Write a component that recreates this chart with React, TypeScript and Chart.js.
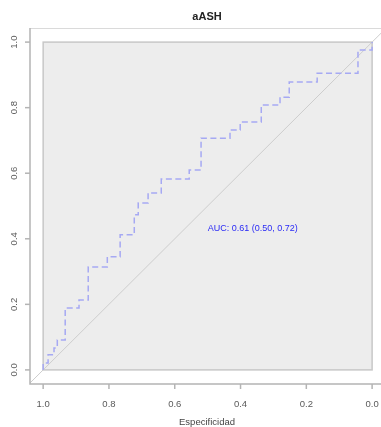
import React, { useEffect, useRef } from "react";
import { Chart, registerables } from "chart.js";

Chart.register(...registerables);

const TITLE = "aASH";
const X_LABEL = "Especificidad";
const AUC_TEXT = "AUC: 0.61 (0.50, 0.72)";
const TICKS = [1.0, 0.8, 0.6, 0.4, 0.2, 0.0];
const TICK_LABELS = ["1.0", "0.8", "0.6", "0.4", "0.2", "0.0"];

// ROC step-curve vertices (specificity, sensitivity)
const rocSpecificity = [
  1.0, 1.0, 0.985, 0.985, 0.967, 0.967, 0.957, 0.957, 0.933, 0.933,
  0.891, 0.891, 0.863, 0.863, 0.805, 0.805, 0.766, 0.766, 0.723, 0.723,
  0.711, 0.711, 0.681, 0.681, 0.641, 0.641, 0.556, 0.556, 0.52, 0.52,
  0.432, 0.432, 0.401, 0.401, 0.337, 0.337, 0.28, 0.28, 0.252, 0.252,
  0.167, 0.167, 0.043, 0.043, 0.0, 0.0,
];
const rocSensitivity = [
  0.0, 0.021, 0.021, 0.046, 0.046, 0.067, 0.067, 0.091, 0.091, 0.189,
  0.189, 0.213, 0.213, 0.314, 0.314, 0.345, 0.345, 0.412, 0.412, 0.473,
  0.473, 0.509, 0.509, 0.54, 0.54, 0.582, 0.582, 0.61, 0.61, 0.707,
  0.707, 0.732, 0.732, 0.756, 0.756, 0.808, 0.808, 0.832, 0.832, 0.878,
  0.878, 0.905, 0.905, 0.976, 0.976, 1.0,
];

const diagSpecificity = [1.04, -0.04];
const diagSensitivity = [-0.04, 1.04];

const FONT = "'Liberation Sans', Arial, sans-serif";

const decorPlugin = {
  id: "decor",
  beforeDatasetsDraw(chart: any) {
    const { ctx, scales } = chart;
    const xs = scales.x;
    const ys = scales.y;
    const x1 = xs.getPixelForValue(1);
    const x0 = xs.getPixelForValue(0);
    const y1 = ys.getPixelForValue(1);
    const y0 = ys.getPixelForValue(0);
    ctx.save();
    ctx.fillStyle = "#ededed";
    ctx.fillRect(x1, y1, x0 - x1, y0 - y1);
    ctx.strokeStyle = "#c8c8c8";
    ctx.lineWidth = 1.5;
    ctx.strokeRect(x1, y1, x0 - x1, y0 - y1);
    ctx.restore();
  },
  afterDraw(chart: any) {
    const { ctx, chartArea, scales } = chart;
    const xs = scales.x;
    const ys = scales.y;
    const L = chartArea.left;
    const R = chartArea.right;
    const T = chartArea.top;
    const B = chartArea.bottom;
    ctx.save();
    ctx.strokeStyle = "#dadada";
    ctx.lineWidth = 1;
    ctx.beginPath();
    ctx.moveTo(L, T + 0.5);
    ctx.lineTo(R, T + 0.5);
    ctx.stroke();
    ctx.strokeStyle = "#b4b4b4";
    ctx.lineWidth = 1.5;
    ctx.beginPath();
    ctx.moveTo(L, T);
    ctx.lineTo(L, B);
    ctx.lineTo(R, B);
    ctx.stroke();
    ctx.fillStyle = "#5a5a5a";
    ctx.font = `9.5px ${FONT}`;
    TICKS.forEach((v, i) => {
      const px = xs.getPixelForValue(v);
      ctx.beginPath();
      ctx.moveTo(px, B);
      ctx.lineTo(px, B + 5);
      ctx.stroke();
      ctx.textAlign = "center";
      ctx.textBaseline = "middle";
      ctx.fillText(TICK_LABELS[i], px, 404);
      const py = ys.getPixelForValue(v);
      ctx.beginPath();
      ctx.moveTo(L, py);
      ctx.lineTo(L - 5, py);
      ctx.stroke();
      ctx.save();
      ctx.translate(14, py);
      ctx.rotate(-Math.PI / 2);
      ctx.fillText(TICK_LABELS[i], 0, 0);
      ctx.restore();
    });
    ctx.fillStyle = "#222";
    ctx.font = `bold 11px ${FONT}`;
    ctx.textAlign = "center";
    ctx.textBaseline = "middle";
    ctx.fillText(TITLE, 207, 17);
    ctx.fillStyle = "#444";
    ctx.font = `9.5px ${FONT}`;
    ctx.fillText(X_LABEL, 207, 422);
    ctx.fillStyle = "#2a2af5";
    ctx.font = `9px ${FONT}`;
    ctx.textAlign = "left";
    ctx.fillText(AUC_TEXT, xs.getPixelForValue(0.5), ys.getPixelForValue(0.43));
    ctx.restore();
  },
};

export default function App() {
  const ref = useRef<HTMLCanvasElement | null>(null);
  useEffect(() => {
    if (!ref.current) return;
    const roc = rocSpecificity.map((s, i) => ({ x: s, y: rocSensitivity[i] }));
    const diag = diagSpecificity.map((s, i) => ({ x: s, y: diagSensitivity[i] }));
    const chart = new Chart(ref.current, {
      type: "scatter",
      data: {
        datasets: [
          {
            data: roc,
            showLine: true,
            borderColor: "#a6a9f3",
            borderWidth: 1.5,
            borderDash: [6, 3.5],
            pointRadius: 0,
            fill: false,
            order: 1,
          },
          {
            data: diag,
            showLine: true,
            borderColor: "#cdcdcd",
            borderWidth: 1,
            pointRadius: 0,
            fill: false,
            order: 2,
          },
        ],
      },
      options: {
        responsive: false,
        animation: false,
        devicePixelRatio: 1,
        layout: { padding: { left: 30, top: 28, right: 0, bottom: 43 } },
        plugins: { legend: { display: false }, tooltip: { enabled: false } },
        scales: {
          x: { type: "linear", reverse: true, min: -0.027, max: 1.04, display: false },
          y: { type: "linear", min: -0.043, max: 1.043, display: false },
        },
      },
      plugins: [decorPlugin],
    } as any);
    return () => chart.destroy();
  }, []);
  return (
    <div
      style={{
        position: "fixed",
        left: 0,
        top: 0,
        width: 381,
        height: 427,
        overflow: "hidden",
        background: "#fff",
      }}
    >
      <canvas ref={ref} width={381} height={427} style={{ display: "block" }} />
    </div>
  );
}
